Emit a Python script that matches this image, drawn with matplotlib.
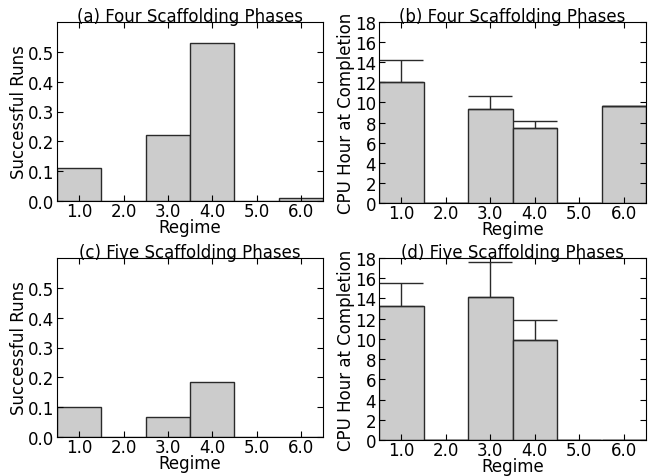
import matplotlib
matplotlib.use('Agg')
import matplotlib.pyplot as plt
import numpy as np

regimes = [1, 2, 3, 4, 5, 6]
regime_labels = ['1.0', '2.0', '3.0', '4.0', '5.0', '6.0']

# four scaffolding phases
success_four = [0.11, 0.0, 0.22, 0.53, 0.0, 0.01]
cpu_four = [12.0, 0.0, 9.3, 7.45, 0.0, 9.67]
cpu_four_err = [2.2, 0.0, 1.3, 0.75, 0.0, 0.0]

# five scaffolding phases
success_five = [0.10, 0.0, 0.066, 0.186, 0.0, 0.0]
cpu_five = [13.25, 0.0, 14.18, 9.9, 0.0, 0.0]
cpu_five_err = [2.3, 0.0, 3.45, 1.95, 0.0, 0.0]

plt.rcParams['font.family'] = ['DejaVu Sans']
W, H = 656, 477
fig = plt.figure(figsize=(W / 100, H / 100), dpi=100)
FS = 12

def box(l, t, r, b):
    return [l / W, 1 - b / H, (r - l) / W, (b - t) / H]

def style(ax):
    ax.tick_params(direction='in', top=True, right=True, length=4, labelsize=FS)
    ax.tick_params(axis='x', pad=0.5)
    ax.tick_params(axis='y', pad=2)
    ax.set_xlim(0.5, 6.5)
    ax.set_xticks(regimes)
    ax.set_xticklabels(regime_labels)
    ax.set_xlabel('Regime', fontsize=FS, labelpad=-1)

def success_panel(ax, vals, title):
    ax.bar(regimes, vals, width=1.0, color='#cccccc', edgecolor='#2a2a2a', linewidth=1)
    style(ax)
    ax.set_ylim(0, 0.6)
    ax.set_yticks(np.arange(0, 0.51, 0.1))
    ax.set_yticklabels(['0.0', '0.1', '0.2', '0.3', '0.4', '0.5'])
    ax.set_ylabel('Successful Runs', fontsize=FS, labelpad=0)
    ax.set_title(title, fontsize=FS, pad=1)

def cpu_panel(ax, vals, errs, title):
    ax.bar(regimes, vals, width=1.0, color='#cccccc', edgecolor='#2a2a2a', linewidth=1)
    ax.errorbar(regimes, vals, yerr=[np.zeros(len(errs)), errs], fmt='none',
                ecolor='#2a2a2a', elinewidth=1, capsize=16, capthick=1)
    style(ax)
    ax.set_ylim(0, 18)
    ax.set_yticks(np.arange(0, 19, 2))
    ax.set_ylabel('CPU Hour at Completion', fontsize=FS, labelpad=0)
    ax.set_title(title, fontsize=FS, pad=1)

ax_a = fig.add_axes(box(57, 23, 323, 202))
success_panel(ax_a, success_four, '(a) Four Scaffolding Phases')
ax_b = fig.add_axes(box(379, 23, 646, 204))
cpu_panel(ax_b, cpu_four, cpu_four_err, '(b) Four Scaffolding Phases')
ax_c = fig.add_axes(box(57, 259, 323, 438))
success_panel(ax_c, success_five, '(c) Five Scaffolding Phases')
ax_d = fig.add_axes(box(379, 259, 646, 441))
cpu_panel(ax_d, cpu_five, cpu_five_err, '(d) Five Scaffolding Phases')

fig.savefig('out.png', dpi=100)
